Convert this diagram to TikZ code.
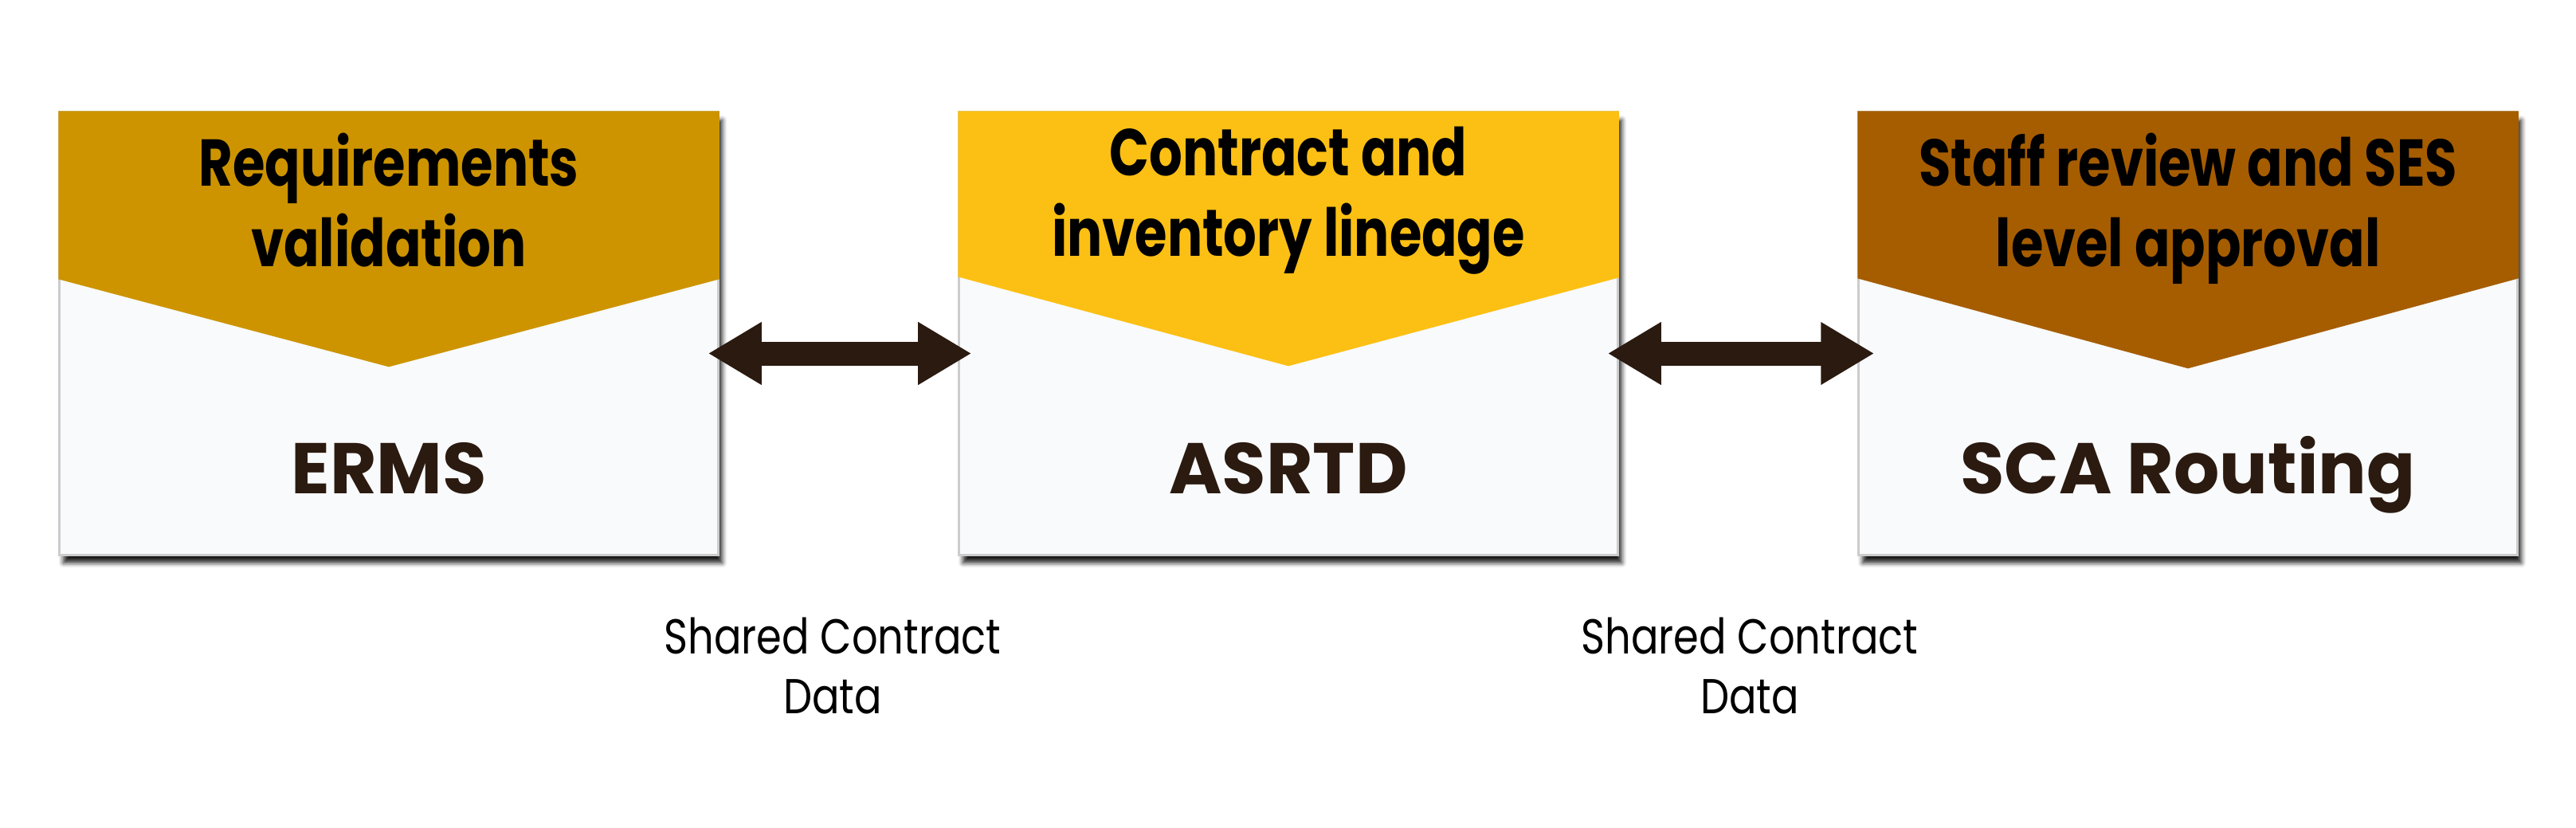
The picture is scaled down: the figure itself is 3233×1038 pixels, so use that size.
\documentclass[tikz,border=0pt]{standalone}
\usepackage{fontspec}
\usepackage{tikz}
\usetikzlibrary{arrows.meta,shadows.blur}
\setmainfont{Poppins}
\newfontfamily\headfont[FakeStretch=0.79]{Poppins}
\newfontfamily\notefont[FakeStretch=0.83]{Poppins}

\definecolor{gold}{HTML}{CD9400}
\definecolor{amber}{HTML}{FCC014}
\definecolor{rust}{HTML}{A65D00}
\definecolor{paper}{HTML}{F8FAFC}
\definecolor{ink}{HTML}{2B1A10}

\begin{document}
\begin{tikzpicture}[x=0.01cm,y=-0.01cm,
  sys/.style={rectangle,minimum width=8.26cm,minimum height=5.55cm,fill=paper,draw=black!20,line width=0.3mm,
    blur shadow={shadow xshift=0.5mm,shadow yshift=-1mm,shadow blur radius=0.6mm,shadow opacity=90}},
  headtext/.style={font=\headfont\bfseries\fontsize{23.6}{25.3}\selectfont,align=center,anchor=base},
  sysname/.style={font=\bfseries\fontsize{25.6}{30}\selectfont,text=ink,anchor=base},
  note/.style={font=\notefont\fontsize{17.5}{19.9}\selectfont,align=center,anchor=base},
  link/.style={ink,line width=0.3cm,{Triangle[length=0.67cm,width=0.74cm]}-{Triangle[length=0.67cm,width=0.74cm]}}]
  \useasboundingbox (0,0) rectangle (3233,1038);

  \node[sys] (sys-1) at (488,418.5) {};
  \node[sys] (sys-2) at (1617,418.5) {};
  \node[sys] (sys-3) at (2746,418.5) {};

  \fill[gold] (sys-1.north west) -- (sys-1.north east) -- ([shift={(0,211)}]sys-1.north east)
    -- ([shift={(0,321)}]sys-1.north) -- ([shift={(0,211)}]sys-1.north west) -- cycle;
  \fill[amber] (sys-2.north west) -- (sys-2.north east) -- ([shift={(0,209)}]sys-2.north east)
    -- ([shift={(0,320)}]sys-2.north) -- ([shift={(0,208)}]sys-2.north west) -- cycle;
  \fill[rust] (sys-3.north west) -- (sys-3.north east) -- ([shift={(0,210)}]sys-3.north east)
    -- ([shift={(0,323)}]sys-3.north) -- ([shift={(0,210)}]sys-3.north west) -- cycle;

  % base of a two-line node sits on its last line
  \node[headtext] (head-1) at ([shift={(0,195)}]sys-1.north) {Requirements\\[3.5pt]validation};
  \node[headtext] (head-2) at ([shift={(0,182)}]sys-2.north) {Contract and\\[3.5pt]inventory lineage};
  \node[headtext] (head-3) at ([shift={(0,195)}]sys-3.north) {Staff review and SES\\[3.5pt]level approval};

  \node[sysname] (name-1) at ([shift={(0,-78)}]sys-1.south) {ERMS};
  \node[sysname] (name-2) at ([shift={(0,-78)}]sys-2.south) {ASRTD};
  \node[sysname] (name-3) at ([shift={(0,-78)}]sys-3.south) {SCA Routing};

  \draw[link] ([shift={(-14,25)}]sys-1.east) -- ([shift={(17,25)}]sys-2.west);
  \draw[link] ([shift={(-14,25)}]sys-2.east) -- ([shift={(21,25)}]sys-3.west);

  \node[note] (note-1) at (1045,895) {Shared Contract\\[1.2pt]Data};
  \node[note] (note-2) at (2196,895) {Shared Contract\\[1.2pt]Data};
\end{tikzpicture}
\end{document}
